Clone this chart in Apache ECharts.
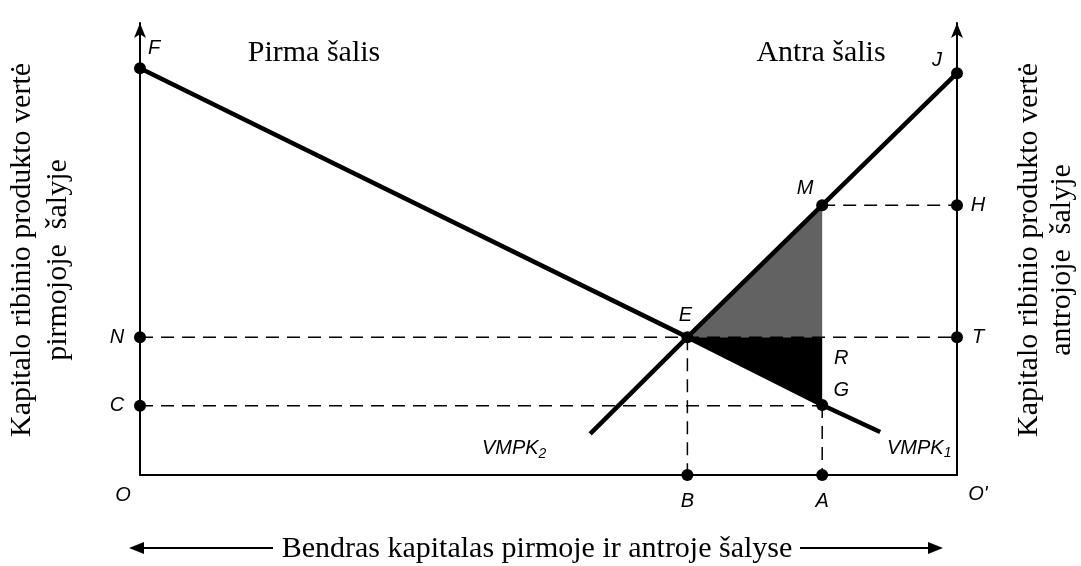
<!DOCTYPE html>
<html>
<head>
<meta charset="utf-8">
<title>Kapitalo paskirstymas</title>
<script src="https://cdn.jsdelivr.net/npm/echarts/dist/echarts.min.js"></script>
<style>
  html, body { margin: 0; padding: 0; background: #fff; }
  #chart { width: 1081px; height: 566px; }
</style>
</head>
<body>
<div id="chart"></div>
<script>
// taškai su juodais apskritimais
const dotNames = ['F', 'J', 'M', 'H', 'E', 'N', 'T', 'G', 'C', 'B', 'A']
const dotX = [0, 100, 83.5, 100, 67, 0, 100, 83.5, 0, 67, 83.5]
const dotY = [90, 88.9, 59.7, 59.7, 30.5, 30.5, 30.5, 15.5, 15.3, 0, 0]

// taškai tik su raide
const textNames = ['R', 'O', "O'"]
const textX = [83.5, 0, 100]
const textY = [30.5, 0, 0]

// VMPK1 (pirma šalis) ir VMPK2 (antra šalis)
const vmpk1X = [0, 67, 83.5, 90.6]
const vmpk1Y = [90, 30.5, 15.5, 9.5]
const vmpk2X = [55.1, 67, 83.5, 100]
const vmpk2Y = [9.1, 30.5, 59.7, 88.9]

// užtušuoti trikampiai: E-M-R (pilkas) ir E-R-G (juodas)
const grayTriangle = [[67, 30.5], [83.5, 59.7], [83.5, 30.5]]
const blackTriangle = [[67, 30.5], [83.5, 30.5], [83.5, 15.5]]

// brūkšninės linijos
const dashedLines = [
  [[0, 30.5], [100, 30.5]],
  [[0, 15.3], [83.5, 15.3]],
  [[83.5, 59.7], [100, 59.7]],
  [[67, 30.5], [67, 0]],
  [[83.5, 15.5], [83.5, 0]]
]

// raidžių poslinkiai nuo taško (px)
const labelOffset = {
  F: [14, -20], J: [-20, -13], M: [-17, -17], H: [21, 0], E: [-2, -22],
  N: [-23, 0], T: [21, 0], G: [19, -15], C: [-23, 0], B: [0, 26], A: [0, 26],
  R: [19, 21], O: [-17, 20], "O'": [21, 19]
}

const serif = '30px "Liberation Serif"'
const sans = 'Liberation Sans'

const chart = echarts.init(document.getElementById('chart'))

const pointLabel = (name) => ({
  show: true,
  position: 'inside',
  offset: labelOffset[name],
  formatter: name,
  color: '#000',
  fontFamily: sans,
  fontStyle: 'italic',
  fontSize: 20
})

const triangle = (pts, color) => ({
  type: 'custom',
  z: 1,
  silent: true,
  data: [0],
  renderItem: (params, api) => ({
    type: 'polygon',
    shape: { points: pts.map((p) => api.coord(p)) },
    style: { fill: color }
  })
})

const axisStyle = { color: '#000', width: 2 }
const noMarks = {
  axisTick: { show: false },
  axisLabel: { show: false },
  splitLine: { show: false }
}

const options = {
  animation: false,
  grid: { left: 140, right: 124, top: 23, bottom: 91 },
  xAxis: {
    type: 'value',
    min: 0,
    max: 100,
    axisLine: { show: true, onZero: false, lineStyle: axisStyle },
    ...noMarks
  },
  yAxis: [
    {
      type: 'value',
      min: 0,
      max: 100,
      position: 'left',
      axisLine: { show: true, symbol: ['none', 'arrow'], symbolSize: [9, 15], lineStyle: axisStyle },
      ...noMarks
    },
    {
      type: 'value',
      min: 0,
      max: 100,
      position: 'right',
      axisLine: { show: true, symbol: ['none', 'arrow'], symbolSize: [9, 15], lineStyle: axisStyle },
      ...noMarks
    }
  ],
  series: [
    triangle(grayTriangle, '#626262'),
    triangle(blackTriangle, '#000'),
    // brūkšninės linijos
    ...dashedLines.map((seg) => ({
      type: 'line',
      z: 2,
      silent: true,
      symbol: 'none',
      data: seg,
      lineStyle: { color: '#000', width: 1.5, type: [13, 8] }
    })),
    {
      type: 'line',
      name: 'VMPK1',
      z: 3,
      symbol: 'none',
      data: vmpk1X.map((x, i) => [x, vmpk1Y[i]]),
      lineStyle: { color: '#000', width: 4.5 }
    },
    {
      type: 'line',
      name: 'VMPK2',
      z: 3,
      symbol: 'none',
      data: vmpk2X.map((x, i) => [x, vmpk2Y[i]]),
      lineStyle: { color: '#000', width: 4.5 }
    },
    // juodi taškai
    {
      type: 'scatter',
      z: 4,
      symbolSize: 12,
      itemStyle: { color: '#000', opacity: 1 },
      data: dotNames.map((n, i) => ({ value: [dotX[i], dotY[i]], label: pointLabel(n) }))
    },
    // raidės be taškų
    {
      type: 'scatter',
      z: 4,
      symbolSize: 1,
      itemStyle: { color: 'rgba(0,0,0,0)', opacity: 1 },
      data: textNames.map((n, i) => ({ value: [textX[i], textY[i]], label: pointLabel(n) }))
    },
    // kreivių pavadinimai
    {
      type: 'scatter',
      z: 4,
      symbolSize: 1,
      itemStyle: { color: 'rgba(0,0,0,0)', opacity: 1 },
      label: {
        show: true,
        position: 'inside',
        formatter: (p) => '{m|VMPK}{s|' + p.data.sub + '}',
        rich: {
          m: { fontFamily: sans, fontStyle: 'italic', fontSize: 20, color: '#000', lineHeight: 24 },
          s: { fontFamily: sans, fontStyle: 'italic', fontSize: 14, color: '#000', lineHeight: 14, verticalAlign: 'bottom' }
        }
      },
      data: [
        { value: [vmpk2X[0], vmpk2Y[0]], sub: '2', label: { offset: [-76, 15] } },
        { value: [vmpk1X[3], vmpk1Y[3]], sub: '1', label: { offset: [39, 16] } }
      ]
    }
  ],
  graphic: [
    { type: 'text', x: 314, y: 53, style: { text: 'Pirma šalis', font: serif, fill: '#000', align: 'center', verticalAlign: 'middle' } },
    { type: 'text', x: 821, y: 53, style: { text: 'Antra šalis', font: serif, fill: '#000', align: 'center', verticalAlign: 'middle' } },
    { type: 'text', x: 22, y: 250, rotation: Math.PI / 2, style: { text: 'Kapitalo ribinio produkto vertė', font: serif, fill: '#000', align: 'center', verticalAlign: 'middle' } },
    { type: 'text', x: 58, y: 260, rotation: Math.PI / 2, style: { text: 'pirmojoje  šalyje', font: serif, fill: '#000', align: 'center', verticalAlign: 'middle' } },
    { type: 'text', x: 1029, y: 250, rotation: Math.PI / 2, style: { text: 'Kapitalo ribinio produkto vertė', font: serif, fill: '#000', align: 'center', verticalAlign: 'middle' } },
    { type: 'text', x: 1062, y: 260, rotation: Math.PI / 2, style: { text: 'antrojoje  šalyje', font: serif, fill: '#000', align: 'center', verticalAlign: 'middle' } },
    // apatinis užrašas su rodyklėmis
    { type: 'text', x: 537, y: 549, style: { text: 'Bendras kapitalas pirmoje ir antroje šalyse', font: serif, fill: '#000', align: 'center', verticalAlign: 'middle' } },
    { type: 'line', shape: { x1: 140, y1: 548, x2: 273, y2: 548 }, style: { stroke: '#000', lineWidth: 2 } },
    { type: 'polygon', shape: { points: [[129, 548], [144, 542], [144, 554]] }, style: { fill: '#000' } },
    { type: 'line', shape: { x1: 800, y1: 548, x2: 932, y2: 548 }, style: { stroke: '#000', lineWidth: 2 } },
    { type: 'polygon', shape: { points: [[943, 548], [928, 542], [928, 554]] }, style: { fill: '#000' } }
  ]
}

chart.setOption(options)

window.addEventListener('resize', () => {
  chart.resize()
})
</script>
</body>
</html>
